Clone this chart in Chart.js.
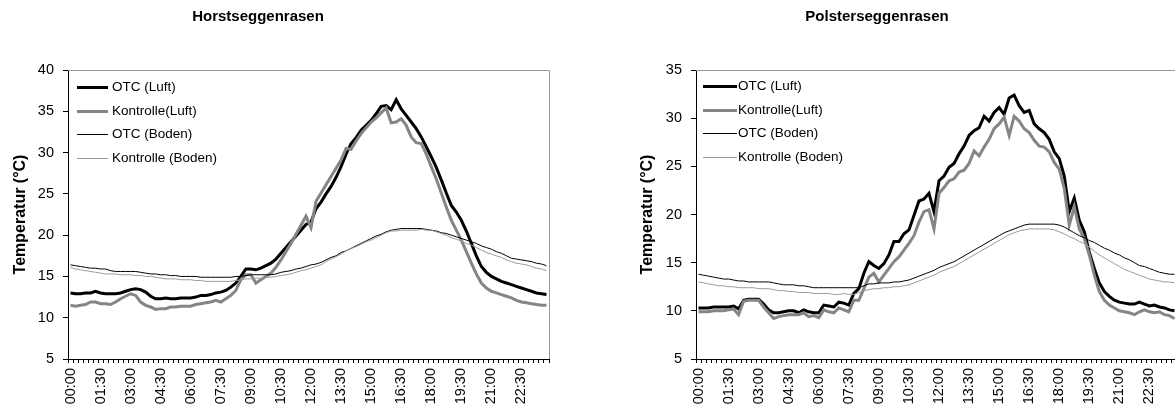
<!DOCTYPE html>
<html>
<head>
<meta charset="utf-8">
<script src="https://cdn.jsdelivr.net/npm/chart.js@4.4.1/dist/chart.umd.min.js"></script>
<style>
  html, body { margin: 0; padding: 0; background: #fff; overflow: hidden; width: 1175px; height: 416px; }
  canvas { position: absolute; top: 0; }
  #horst { left: 0; }
  #polster { left: 590px; }
</style>
</head>
<body>
<canvas id="horst" width="590" height="416"></canvas>
<canvas id="polster" width="610" height="416"></canvas>
<script>
// Zeitachse: 15-Minuten-Werte über einen Tag
const times = [];
for (let h = 0; h < 24; h++) {
    for (let m = 0; m < 60; m += 15) {
        times.push(String(h).padStart(2, '0') + ':' + String(m).padStart(2, '0'));
    }
}

const seriesNames = ['OTC (Luft)', 'Kontrolle(Luft)', 'OTC (Boden)', 'Kontrolle (Boden)'];

// Horstseggenrasen
const horstOtcLuft = [
    13.0, 12.9, 12.9, 13.0, 13.0, 13.2, 13.0, 12.9, 12.9, 12.9, 13.0, 13.2,
    13.4, 13.5, 13.4, 13.1, 12.6, 12.3, 12.3, 12.4, 12.3, 12.3, 12.4, 12.4,
    12.4, 12.5, 12.7, 12.7, 12.8, 13.0, 13.1, 13.3, 13.7, 14.2, 15.0, 15.9,
    15.9, 15.8, 16.0, 16.3, 16.6, 17.1, 17.8, 18.5, 19.2, 19.9, 20.6, 21.3,
    21.6, 23.2, 24.0, 25.0, 25.9, 27.0, 28.3, 29.8, 31.1, 31.8, 32.7, 33.3,
    33.9, 34.7, 35.6, 35.7, 35.2, 36.4, 35.3, 34.5, 33.7, 32.9, 31.9, 30.7,
    29.5, 28.2, 26.7, 25.1, 23.6, 22.8, 21.8, 20.5, 19.0, 17.5, 16.2, 15.5,
    15.0, 14.7, 14.4, 14.2, 14.0, 13.8, 13.6, 13.4, 13.2, 13.0, 12.9, 12.8
];
const horstKontrolleLuft = [
    11.5, 11.4, 11.5, 11.6, 11.9, 11.9, 11.7, 11.7, 11.6, 11.9, 12.3, 12.6,
    12.9, 12.7, 11.9, 11.5, 11.3, 11.0, 11.1, 11.1, 11.3, 11.3, 11.4, 11.4,
    11.4, 11.6, 11.7, 11.8, 11.9, 12.1, 11.9, 12.3, 12.7, 13.3, 14.6, 15.2,
    15.2, 14.2, 14.6, 15.0, 15.4, 16.1, 17.0, 18.0, 19.0, 20.1, 21.2, 22.3,
    20.9, 24.1, 25.1, 26.1, 27.1, 28.1, 29.1, 30.5, 30.4, 31.4, 32.3, 33.0,
    33.7, 34.2, 34.8, 35.4, 33.6, 33.7, 34.1, 33.3, 31.9, 31.2, 31.1, 29.8,
    28.3, 26.8, 25.1, 23.4, 21.8, 20.6, 19.4, 18.0, 16.6, 15.3, 14.2, 13.6,
    13.2, 13.0, 12.8, 12.6, 12.4, 12.1, 11.9, 11.8, 11.7, 11.6, 11.5, 11.5
];
const horstOtcBoden = [
    16.4, 16.3, 16.2, 16.1, 16.0, 16.0, 15.9, 15.9, 15.7, 15.6, 15.6, 15.6,
    15.6, 15.6, 15.5, 15.4, 15.3, 15.3, 15.2, 15.2, 15.1, 15.1, 15.0, 15.0,
    15.0, 15.0, 14.9, 14.9, 14.9, 14.9, 14.9, 14.9, 14.9, 15.0, 15.0, 15.1,
    15.2, 15.2, 15.2, 15.2, 15.2, 15.3, 15.5, 15.6, 15.7, 15.9, 16.0, 16.2,
    16.4, 16.5, 16.7, 17.0, 17.3, 17.5, 17.9, 18.1, 18.4, 18.7, 19.0, 19.3,
    19.6, 19.9, 20.1, 20.4, 20.6, 20.7, 20.8, 20.8, 20.8, 20.8, 20.8, 20.7,
    20.6, 20.5, 20.3, 20.2, 20.0, 19.8, 19.6, 19.4, 19.2, 19.0, 18.7, 18.5,
    18.3, 18.0, 17.8, 17.5, 17.2, 17.1, 17.0, 16.9, 16.8, 16.6, 16.5, 16.3
];
const horstKontrolleBoden = [
    16.1, 15.9, 15.8, 15.7, 15.6, 15.5, 15.4, 15.3, 15.3, 15.3, 15.2, 15.2,
    15.2, 15.1, 15.1, 15.0, 15.0, 14.9, 14.8, 14.7, 14.7, 14.7, 14.6, 14.6,
    14.6, 14.5, 14.5, 14.4, 14.4, 14.4, 14.4, 14.4, 14.4, 14.5, 14.6, 14.7,
    14.7, 14.8, 14.8, 14.9, 14.9, 15.0, 15.1, 15.2, 15.3, 15.5, 15.7, 15.8,
    16.0, 16.2, 16.4, 16.8, 17.1, 17.4, 17.7, 18.1, 18.4, 18.6, 18.9, 19.2,
    19.4, 19.7, 20.0, 20.3, 20.5, 20.5, 20.6, 20.6, 20.6, 20.6, 20.7, 20.6,
    20.6, 20.4, 20.2, 20.0, 19.7, 19.5, 19.3, 19.0, 18.8, 18.5, 18.2, 17.9,
    17.7, 17.5, 17.3, 17.0, 16.8, 16.6, 16.5, 16.4, 16.2, 16.0, 15.9, 15.7
];

// Polsterseggenrasen
const polsterOtcLuft = [
    10.3, 10.3, 10.3, 10.4, 10.4, 10.4, 10.4, 10.5, 10.2, 11.1, 11.2, 11.2,
    11.2, 10.7, 10.1, 9.8, 9.8, 9.9, 10.0, 10.0, 9.8, 10.1, 9.9, 9.8,
    9.8, 10.6, 10.5, 10.4, 10.9, 10.8, 10.6, 11.8, 12.3, 13.9, 15.1, 14.7,
    14.4, 14.9, 15.8, 17.2, 17.2, 18.0, 18.4, 19.9, 21.4, 21.6, 22.2, 20.3,
    23.5, 24.0, 24.9, 25.3, 26.3, 27.1, 28.2, 28.7, 29.0, 30.2, 29.7, 30.6,
    31.1, 30.4, 32.1, 32.4, 31.3, 30.6, 30.8, 29.4, 28.9, 28.5, 27.8, 26.5,
    25.8, 24.0, 20.3, 21.7, 19.4, 18.2, 16.1, 14.4, 12.9, 12.0, 11.5, 11.1,
    10.9, 10.8, 10.7, 10.7, 10.9, 10.7, 10.5, 10.6, 10.4, 10.3, 10.1, 10.0
];
const polsterKontrolleLuft = [
    9.9, 9.9, 9.9, 10.0, 10.0, 10.0, 10.1, 10.2, 9.6, 11.0, 11.1, 11.1,
    11.1, 10.4, 9.8, 9.2, 9.4, 9.5, 9.6, 9.6, 9.6, 9.8, 9.4, 9.5,
    9.3, 10.1, 9.9, 9.8, 10.3, 10.1, 9.9, 11.1, 11.1, 12.3, 13.5, 13.9,
    13.0, 13.7, 14.4, 15.1, 15.6, 16.3, 17.0, 17.8, 19.2, 20.3, 20.5, 18.5,
    22.2, 22.8, 23.5, 23.7, 24.4, 24.6, 25.3, 26.6, 26.1, 27.0, 27.8, 28.9,
    29.4, 30.1, 28.2, 30.2, 29.7, 28.9, 28.5, 27.7, 27.1, 27.0, 26.5, 25.4,
    24.7, 22.7, 18.9, 20.8, 18.5, 17.5, 15.8, 13.7, 12.0, 11.1, 10.6, 10.3,
    10.0, 9.9, 9.8, 9.6, 9.9, 10.1, 9.9, 9.8, 9.9, 9.6, 9.5, 9.2
];
const polsterOtcBoden = [
    13.8, 13.7, 13.6, 13.5, 13.4, 13.3, 13.3, 13.2, 13.1, 13.1, 13.0, 13.0,
    13.0, 13.0, 13.0, 12.9, 12.8, 12.7, 12.7, 12.7, 12.6, 12.6, 12.5, 12.4,
    12.4, 12.4, 12.4, 12.4, 12.4, 12.4, 12.4, 12.4, 12.4, 12.6, 12.8, 12.8,
    12.9, 12.9, 12.9, 13.0, 13.0, 13.1, 13.2, 13.4, 13.6, 13.8, 14.0, 14.2,
    14.5, 14.7, 14.9, 15.1, 15.4, 15.7, 16.0, 16.3, 16.6, 16.9, 17.2, 17.5,
    17.8, 18.1, 18.3, 18.5, 18.7, 18.9, 19.0, 19.0, 19.0, 19.0, 19.0, 19.0,
    18.9, 18.7, 18.4, 18.1, 17.8, 17.6, 17.3, 17.1, 16.8, 16.5, 16.3, 16.0,
    15.8, 15.5, 15.3, 15.0, 14.7, 14.6, 14.4, 14.2, 14.0, 13.9, 13.8, 13.8
];
const polsterKontrolleBoden = [
    13.0, 12.9, 12.8, 12.7, 12.6, 12.6, 12.5, 12.5, 12.4, 12.4, 12.4, 12.4,
    12.3, 12.3, 12.3, 12.2, 12.1, 12.1, 12.0, 12.0, 11.9, 11.9, 11.9, 11.8,
    11.8, 11.8, 11.8, 11.7, 11.7, 11.8, 11.7, 11.7, 11.9, 12.1, 12.2, 12.3,
    12.3, 12.4, 12.4, 12.5, 12.5, 12.6, 12.7, 12.9, 13.1, 13.3, 13.5, 13.7,
    14.0, 14.2, 14.4, 14.6, 14.9, 15.2, 15.5, 15.8, 16.1, 16.4, 16.7, 17.0,
    17.3, 17.6, 17.9, 18.1, 18.3, 18.4, 18.5, 18.5, 18.5, 18.5, 18.5, 18.4,
    18.2, 18.0, 17.7, 17.5, 17.2, 17.0, 16.6, 16.2, 15.8, 15.5, 15.2, 14.9,
    14.6, 14.3, 14.1, 13.9, 13.7, 13.5, 13.3, 13.2, 13.1, 13.0, 13.0, 12.9
];

const lineColors = ['#000000', '#858585', '#000000', '#9a9a9a'];
const lineWidths = [3, 3, 1, 1];
const FONT = 'Liberation Sans, Arial, sans-serif';

// grauer Rahmen oben und rechts
const framePlugin = {
    id: 'frame',
    afterDraw(chart) {
        const { ctx, chartArea: a } = chart;
        ctx.save();
        ctx.strokeStyle = '#999999';
        ctx.lineWidth = 1;
        ctx.beginPath();
        ctx.moveTo(a.left, a.top + 0.5);
        ctx.lineTo(a.right + 0.5, a.top + 0.5);
        ctx.lineTo(a.right + 0.5, a.bottom);
        ctx.stroke();
        ctx.restore();
    }
};

// Legende innerhalb der Zeichenfläche
const legendPlugin = {
    id: 'innerLegend',
    afterDraw(chart, args, opts) {
        const { ctx, chartArea: a } = chart;
        ctx.save();
        ctx.font = '13.5px ' + FONT;
        ctx.textBaseline = 'middle';
        ctx.fillStyle = '#000';
        chart.data.datasets.forEach((ds, i) => {
            const y = Math.round(a.top + opts.rowTop + i * 23.5);
            const ly = ds.borderWidth % 2 ? y + 0.5 : y;
            ctx.strokeStyle = ds.borderColor;
            ctx.lineWidth = ds.borderWidth;
            ctx.beginPath();
            ctx.moveTo(a.left + opts.lineStart, ly);
            ctx.lineTo(a.left + opts.lineEnd, ly);
            ctx.stroke();
            ctx.fillText(ds.label, a.left + opts.textStart, y);
        });
        ctx.restore();
    }
};

// Diagrammtitel
const headingPlugin = {
    id: 'heading',
    afterDraw(chart, args, opts) {
        const { ctx } = chart;
        ctx.save();
        ctx.font = 'bold 15px ' + FONT;
        ctx.textAlign = 'center';
        ctx.textBaseline = 'middle';
        ctx.fillStyle = '#000';
        ctx.fillText(opts.text, opts.x, 17);
        ctx.restore();
    }
};

function makeChart(id, values, cfg) {
    return new Chart(document.getElementById(id), {
        type: 'line',
        data: {
            labels: times,
            datasets: values.map((data, i) => ({
                label: seriesNames[i],
                data: data,
                borderColor: lineColors[i],
                borderWidth: lineWidths[i],
                pointRadius: 0,
                tension: 0,
                fill: false,
                order: 4 - i
            }))
        },
        options: {
            responsive: false,
            animation: false,
            devicePixelRatio: 1,
            layout: { padding: { top: 70, right: cfg.padRight, bottom: 0, left: 0 } },
            plugins: {
                legend: { display: false },
                tooltip: { enabled: false },
                title: { display: false },
                innerLegend: cfg.legend,
                heading: { text: cfg.title, x: cfg.titleX }
            },
            scales: {
                x: {
                    type: 'category',
                    offset: true,
                    grid: { display: true, drawOnChartArea: false, offset: true, tickLength: 4, color: '#000' },
                    border: { color: '#000', width: 1 },
                    ticks: {
                        autoSkip: false,
                        maxRotation: 90,
                        minRotation: 90,
                        padding: 5,
                        color: '#000',
                        font: { family: FONT, size: 14.5 },
                        callback: (v, i) => (i % 6 === 0 ? times[i] : '')
                    },
                    afterFit: (scale) => { scale.height = 57; }
                },
                y: {
                    min: 5,
                    max: cfg.yMax,
                    grid: { display: true, drawOnChartArea: false, tickLength: 5, color: '#000' },
                    border: { color: '#000', width: 1 },
                    ticks: { stepSize: 5, padding: 9, color: '#000', font: { family: FONT, size: 14.5 } },
                    title: {
                        display: true,
                        text: 'Temperatur (°C)',
                        color: '#000',
                        font: { family: FONT, size: 16, weight: 'bold' },
                        padding: { top: cfg.yTitlePad, bottom: 0 }
                    },
                    afterFit: (scale) => { scale.width = cfg.yWidth; }
                }
            }
        },
        plugins: [framePlugin, legendPlugin, headingPlugin]
    });
}

makeChart('horst',
    [horstOtcLuft, horstKontrolleLuft, horstOtcBoden, horstKontrolleBoden],
    {
        title: 'Horstseggenrasen', titleX: 258, yMax: 40,
        yWidth: 68, yTitlePad: 11, padRight: 41,
        legend: { rowTop: 17, lineStart: 9, lineEnd: 40, textStart: 44 }
    });

makeChart('polster',
    [polsterOtcLuft, polsterKontrolleLuft, polsterOtcBoden, polsterKontrolleBoden],
    {
        title: 'Polsterseggenrasen', titleX: 287, yMax: 35,
        yWidth: 106, yTitlePad: 48, padRight: 23,
        legend: { rowTop: 16, lineStart: 7, lineEnd: 41, textStart: 42 }
    });
</script>
</body>
</html>
